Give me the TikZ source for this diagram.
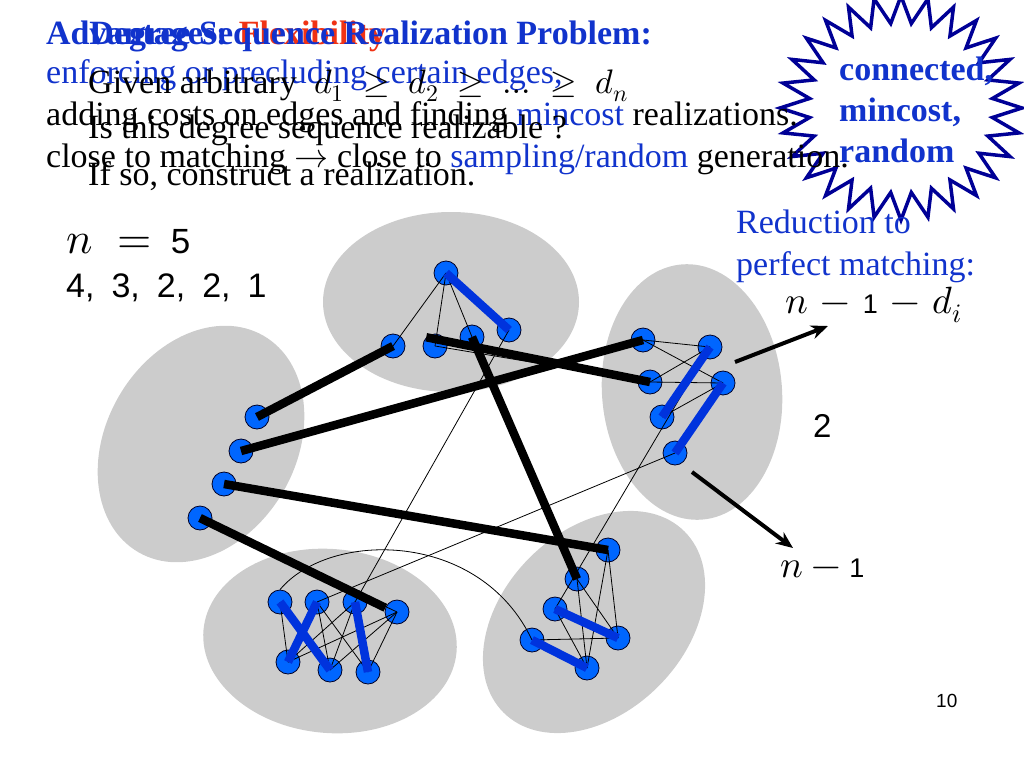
\documentclass[tikz,border=0pt]{standalone}
\usepackage{fontspec}
\usepackage{unicode-math}
\setmainfont{Liberation Serif}
\newfontfamily\arialfont{Liberation Sans}
\usetikzlibrary{arrows.meta}
\definecolor{tblue}{RGB}{17,51,204}
\definecolor{tred}{RGB}{240,50,20}
\definecolor{starblue}{RGB}{0,0,150}
\definecolor{nodeblue}{RGB}{0,102,255}
\definecolor{edgeblue}{RGB}{0,51,221}
\definecolor{cgray}{RGB}{204,204,204}
\newcommand{\sfd}[1]{\mbox{\arialfont\fontsize{35}{38}\selectfont #1}}
\newcommand{\sfo}[1]{\mbox{\arialfont\fontsize{27}{30}\selectfont #1}}
\begin{document}
\begin{tikzpicture}[x=1pt,y=-1pt,
  vtx/.style={circle, fill=nodeblue, draw=black!85!blue, line width=0.8pt, minimum size=24pt, inner sep=0pt},
  cluster/.style={fill=cgray, draw=none},
  fineedge/.style={draw=black, line width=0.8pt},
  heavy/.style={draw=black, line width=8.5pt},
  match/.style={draw=edgeblue, line width=8.5pt},
  pointer/.style={draw=black, line width=4pt, -{Stealth[length=17pt,width=14pt]}},
  txt/.style={anchor=base west, inner sep=0pt, font=\fontsize{34}{40}\selectfont},
  titletxt/.style={inner sep=0pt, text=tblue, font=\fontsize{34}{40}\selectfont\bfseries},
  startxt/.style={anchor=base west, inner sep=0pt, text=tblue, font=\fontsize{34}{40}\selectfont\bfseries},
  bigmath/.style={anchor=base west, inner sep=0pt, font=\fontsize{44}{48}\selectfont},
  midmath/.style={anchor=base west, inner sep=0pt, font=\fontsize{38}{42}\selectfont},
  sanstxt/.style={anchor=base west, inner sep=0pt, font=\fontsize{34}{38}\selectfont\arialfont},
  starline/.style={draw=starblue, line width=3.5pt, line join=miter}
]
\useasboundingbox (0,0) rectangle (1024,768);

% clusters
\fill[cluster] (451,302) ellipse [x radius=128, y radius=90];
\fill[cluster] (201,444) ellipse [x radius=125, y radius=95, rotate=60];
\fill[cluster] (692,392) ellipse [x radius=90, y radius=128, rotate=4.5];
\fill[cluster] (330,641) ellipse [x radius=127, y radius=92, rotate=-5];
\fill[cluster] (594,622) ellipse [x radius=128, y radius=91, rotate=45];

% starburst
\begin{scope}[shift={(901,108)}]
\draw[starline] (90:121 and 112) \foreach \i in {1,...,28} { -- ({90+(\i-0.5)*360/28}:92 and 85) -- ({90+\i*360/28}:121 and 112) } -- cycle;
\end{scope}

% texts
\node[titletxt, anchor=base west] (adv) at (46,45) {Advantages: \textcolor{tred}{Flexibility}};
\node[titletxt, anchor=base east] (dsr) at (652,45) {Degree Sequence Realization Problem:};
\node[txt, text=tblue] (enf) at (46,83) {enforcing or precluding certain edges,};
\node[txt] (giv) at (88,93) {Given arbitrary};
\node[txt] (seq) at (314,93) {$d_1 \;\geq\; d_2 \;\geq\; \ldots \;\geq\; d_n$};
\node[txt] (add) at (46,125) {adding costs on edges and finding \textcolor{tblue}{mincost} realizations.};
\node[txt] (isr) at (88,138) {Is this degree sequence realizable ?};
\node[txt] (clo) at (46,167) {close to matching $\rightarrow$ close to \textcolor{tblue}{sampling/random} generation.};
\node[txt] (ifs) at (88,185) {If so, construct a realization.};

\node[startxt] (s1) at (839,81) {connected,};
\node[startxt] (s2) at (839,121) {mincost,};
\node[startxt] (s3) at (839,162) {random};

\node[txt, text=tblue] (red1) at (736,233) {Reduction to};
\node[txt, text=tblue] (red2) at (736,275) {perfect matching:};

\node[bigmath] (nfive) at (66,253) {$n \mkern5mu=\mkern3mu \sfd{5}$};
\node[sanstxt] (degs) at (66,297) {4,\hspace{17pt}3,\hspace{17pt}2,\hspace{17pt}2,\hspace{17pt}1};
\node[midmath] (lab1) at (785,313) {$n \mkern2mu-\mkern2mu \sfo{1} \mkern2mu-\mkern2mu d_i$};
\node[sanstxt, font=\fontsize{33}{38}\selectfont\arialfont] (lab2) at (813,437) {2};
\node[midmath] (lab3) at (780,577) {$n \mkern0mu-\mkern0mu \sfo{1}$};
\node[anchor=base west, inner sep=0pt, font=\fontsize{19}{22}\selectfont\arialfont] (pg) at (936,707) {10};

% vertices
\node[vtx] (T1) at (446,273) {};
\node[vtx] (T2) at (509,330) {};
\node[vtx] (T3) at (393,346) {};
\node[vtx] (T4) at (435,346) {};
\node[vtx] (T5) at (472,337) {};
\node[vtx] (R1) at (643,340) {};
\node[vtx] (R2) at (710,347) {};
\node[vtx] (R3) at (650,382) {};
\node[vtx] (R4) at (723,383) {};
\node[vtx] (R5) at (662,417) {};
\node[vtx] (R6) at (675,453) {};
\node[vtx] (L1) at (257,417) {};
\node[vtx] (L2) at (241,451) {};
\node[vtx] (L3) at (224,484) {};
\node[vtx] (L4) at (200,518) {};
\node[vtx] (B1) at (280,602) {};
\node[vtx] (B2) at (317,602) {};
\node[vtx] (B3) at (355,602) {};
\node[vtx] (B4) at (397,612) {};
\node[vtx] (B5) at (288,662) {};
\node[vtx] (B6) at (330,670) {};
\node[vtx] (B7) at (368,672) {};
\node[vtx] (BR1) at (608,550) {};
\node[vtx] (BR2) at (577,579) {};
\node[vtx] (BR3) at (555,609) {};
\node[vtx] (BR4) at (532,640) {};
\node[vtx] (BR5) at (618,638) {};
\node[vtx] (BR6) at (587,668) {};

% thin edges
\foreach \a/\b in {T1/T3, T1/T4, T1/T5, T4/R3, T2/B3,
  R1/R2, R1/R4, R3/R2, R3/R4, R5/R4, R2/BR3, R6/B2,
  B1/B5, B2/B6, B2/B7, B3/B5, B3/B6, B4/B5, B4/B6, B4/B7, L4/B4,
  BR1/BR5, BR1/BR6, BR2/BR6, BR2/BR5, BR3/BR6, BR4/BR5}
  \draw[fineedge] (\a.center) -- (\b.center);
\draw[fineedge] (B1.north) .. controls (330,530) and (480,530) .. (BR4.center);

% heavy edges
\draw[heavy] (T3.center) -- (L1.center);
\draw[heavy] (R1.center) -- (L2.center);
\draw[heavy] (T4.135) -- (R3.center);
\draw[heavy] (T5.center) -- (BR2.center);
\draw[heavy] (L3.center) -- (BR1.center);
\draw[heavy] (L4.center) -- (B4.160);

% matching edges
\foreach \a/\b in {T1/T2, R2/R5, R4/R6, B1/B6, B2/B5, B3/B7, BR3/BR5, BR4/BR6}
  \draw[match] (\a.center) -- (\b.center);

% arrows
\coordinate (a1s) at (735,362);
\coordinate (a1e) at (828,326);
\coordinate (a2s) at (692,472);
\coordinate (a2e) at (793,548);
\draw[pointer] (a1s) -- (a1e);
\draw[pointer] (a2s) -- (a2e);
\end{tikzpicture}
\end{document}
